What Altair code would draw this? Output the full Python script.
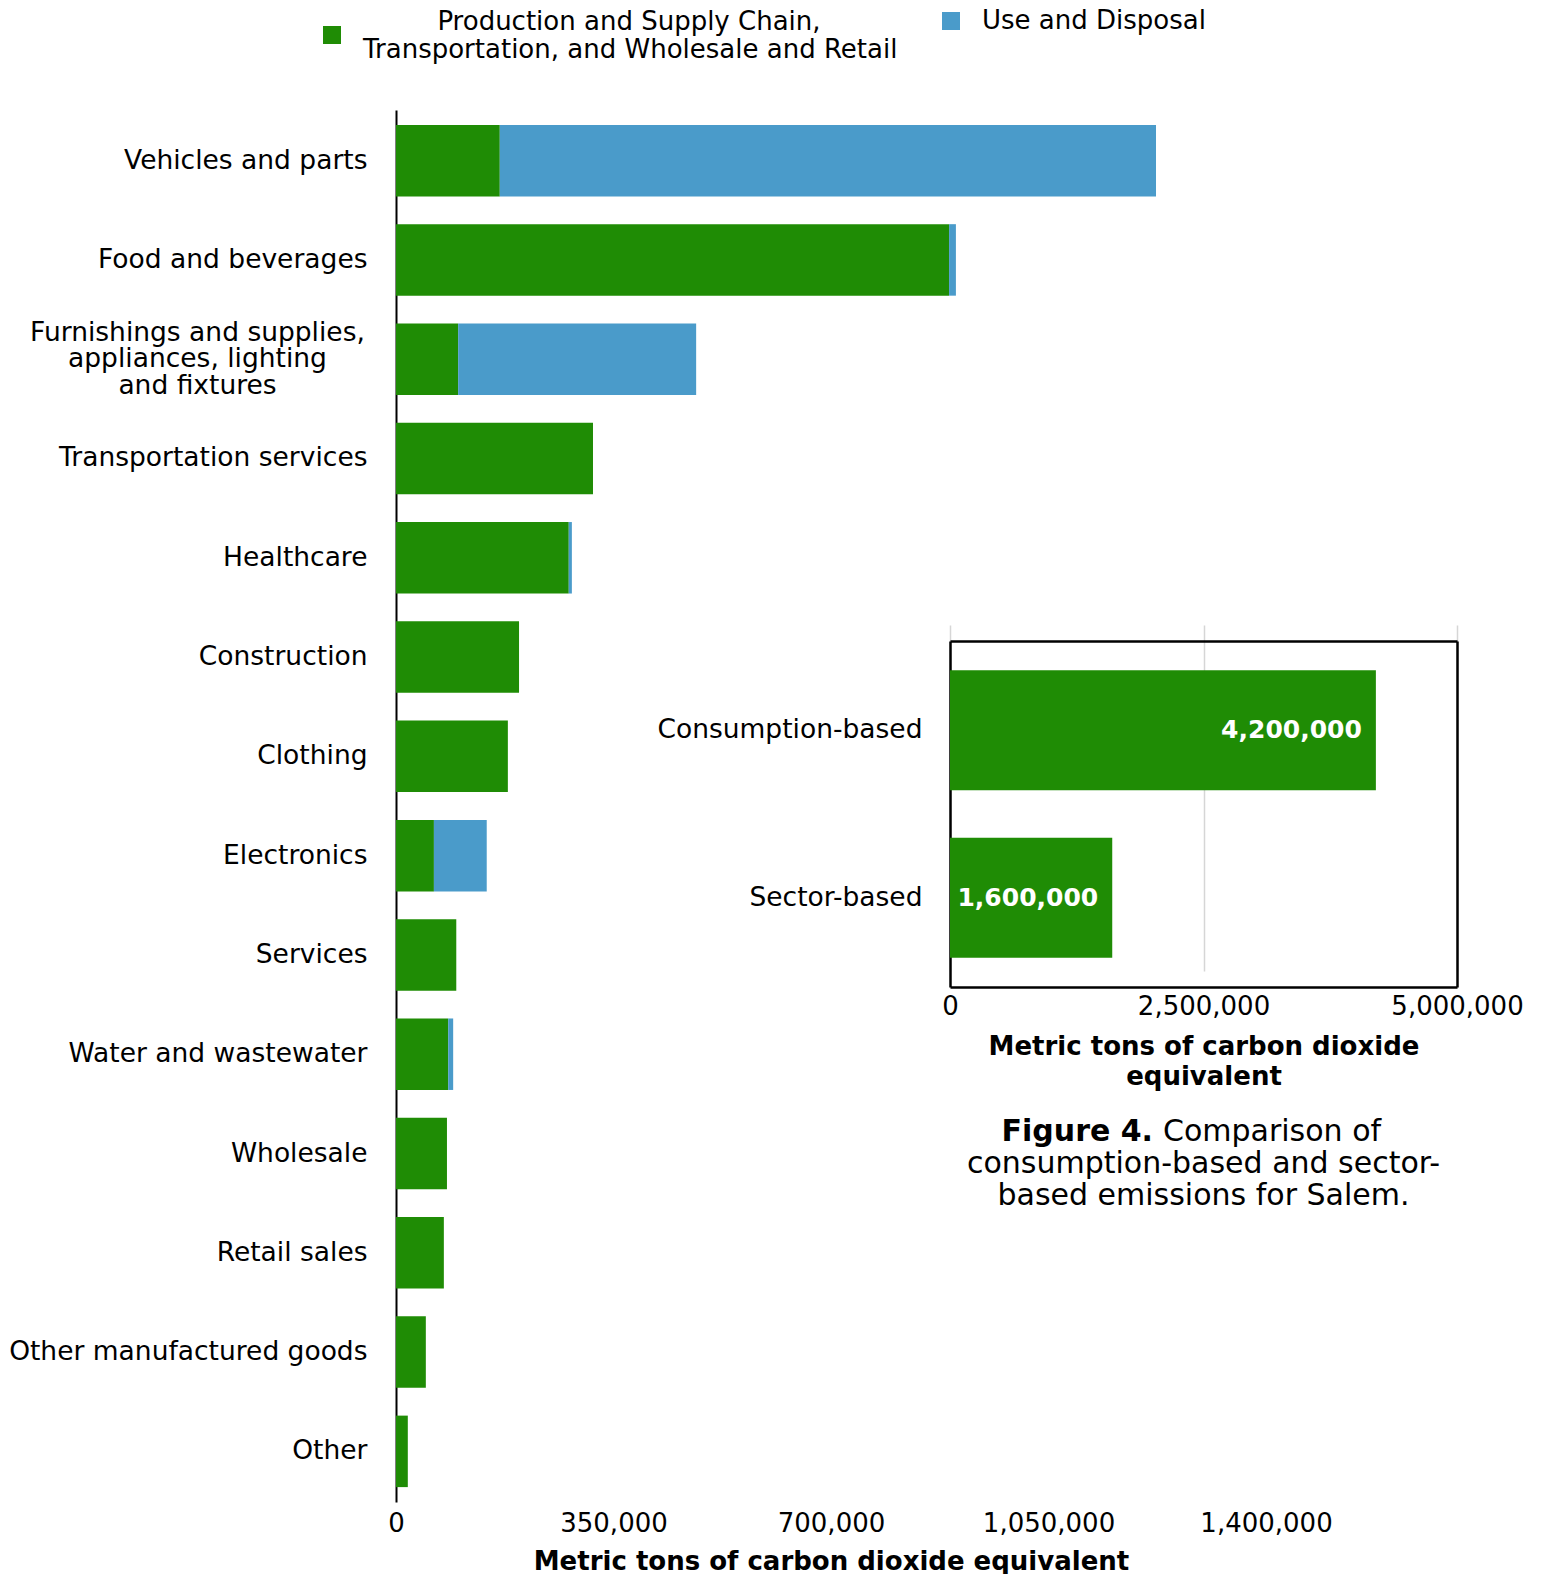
import altair as alt
import pandas as pd

FONT = "DejaVu Sans"
GREEN = "#1f8c05"
BLUE = "#4a9bca"

# ---------------- data ----------------
categories = [
    "Vehicles and parts",
    "Food and beverages",
    "Furnishings and supplies,\nappliances, lighting\nand fixtures",
    "Transportation services",
    "Healthcare",
    "Construction",
    "Clothing",
    "Electronics",
    "Services",
    "Water and wastewater",
    "Wholesale",
    "Retail sales",
    "Other manufactured goods",
    "Other",
]
series = [
    "Production and Supply Chain,\nTransportation, and Wholesale and Retail",
    "Use and Disposal",
]
production = [167000, 890000, 100000, 317000, 278000, 198000, 180000,
              61000, 97000, 84000, 82000, 77000, 48000, 19000]
use_disposal = [1056000, 11000, 383000, 0, 5000, 0, 0,
                85000, 0, 8000, 0, 0, 0, 0]
x_ticks = [0, 350000, 700000, 1050000, 1400000]

inset_categories = ["Consumption-based", "Sector-based"]
inset_values = [4200000, 1600000]
inset_ticks = [0, 2500000, 5000000]

axis_title = "Metric tons of carbon dioxide equivalent"
inset_axis_title = ["Metric tons of carbon dioxide", "equivalent"]
caption_bold = "Figure 4."
caption_line1 = "Comparison of"
caption_rest = "consumption-based and sector-\nbased emissions for Salem."

# ---------------- tables ----------------
dfw = pd.DataFrame({
    "category": categories,
    "production": production,
    "use": use_disposal,
})
dfw["total"] = dfw["production"] + dfw["use"]
dfw["series_a"] = series[0]
dfw["series_b"] = series[1]

inset_df = pd.DataFrame({
    "measure": inset_categories,
    "value": inset_values,
    "label": [f"{v:,}" for v in inset_values],
})

# ---------------- layout constants ----------------
W, H = 870, 1392
IX0, IX1 = 554, 1061     # inset horizontal extent (pixels inside plot)
IY0, IY1 = 531, 877      # inset vertical extent

# zero-width space keeps the centring spaces from being trimmed
PAD = "\u200b" + "\u00a0" * 9
legend_a_expr = f"['{PAD}' + split(datum.label, '\\n')[0], split(datum.label, '\\n')[1]]"
multi = "indexof(datum.label, '\\n') >= 0"

# ---------------- main chart ----------------
y_main = alt.Y(
    "category:N",
    sort=categories,
    scale=alt.Scale(paddingInner=0.28, paddingOuter=0.15),
    axis=alt.Axis(
        title=None,
        ticks=False,
        domain=True,
        domainColor="black",
        domainWidth=2,
        labelFontSize=26.5,
        labelColor="black",
        labelLimit=0,
        labelLineHeight=26.5,
        labelExpr="split(datum.label, '\\n')",
        labelAlign={"condition": {"test": multi, "value": "center"}, "value": "right"},
        labelPadding={"condition": {"test": multi, "value": 199}, "value": 29},
        labelOffset={"condition": {"test": multi, "value": -26.5}, "value": 0},
        grid=False,
    ),
)
x_scale_main = alt.Scale(domain=[0, 1400000], nice=False)
x_axis_main = alt.Axis(
    values=x_ticks,
    format=",.0f",
    title=axis_title,
    titleFontSize=26,
    titleFontWeight="bold",
    titleColor="black",
    titlePadding=12,
    labelFontSize=26,
    labelColor="black",
    labelPadding=8,
    labelFlush=False,
    ticks=False,
    domain=False,
    grid=False,
)

bars_a = alt.Chart(dfw).mark_bar().encode(
    y=y_main,
    x=alt.X("production:Q", stack=None, scale=x_scale_main, axis=x_axis_main),
    color=alt.Color(
        "series_a:N",
        scale=alt.Scale(domain=[series[0]], range=[GREEN]),
        legend=alt.Legend(
            title=None,
            orient="none",
            legendX=-77,
            legendY=-88,
            symbolType="square",
            symbolSize=324,
            symbolStrokeWidth=0,
            labelFontSize=26,
            labelColor="black",
            labelOffset=18,
            labelLimit=0,
            labelBaseline="bottom",
            labelExpr=legend_a_expr,
            padding=0,
        ),
    ),
)

bars_b = alt.Chart(dfw).mark_bar().encode(
    y=y_main,
    x=alt.X("production:Q", stack=None, scale=x_scale_main, axis=x_axis_main),
    x2="total:Q",
    color=alt.Color(
        "series_b:N",
        scale=alt.Scale(domain=[series[1]], range=[BLUE]),
        legend=alt.Legend(
            title=None,
            orient="none",
            legendX=542,
            legendY=-102,
            symbolType="square",
            symbolSize=324,
            symbolStrokeWidth=0,
            labelFontSize=26,
            labelColor="black",
            labelOffset=18,
            labelLimit=0,
            padding=0,
        ),
    ),
)

main = alt.layer(bars_a, bars_b).resolve_scale(color="independent")

# ---------------- inset ----------------
inset_y_scale = alt.Scale(domain=inset_categories, range=[IY0, IY1],
                          paddingInner=0.284, paddingOuter=0.175)
inset_x_scale = alt.Scale(domain=[0, 5000000], range=[IX0, IX1], nice=False)

inset_bars = alt.Chart(inset_df).mark_bar(color=GREEN).encode(
    y=alt.Y(
        "measure:N",
        sort=inset_categories,
        scale=inset_y_scale,
        axis=alt.Axis(
            orient="left",
            offset=-IX0,
            title=None,
            ticks=False,
            domain=True,
            domainColor="black",
            domainWidth=2.5,
            labelFontSize=26.5,
            labelColor="black",
            labelPadding=28,
            labelLimit=0,
            grid=False,
        ),
    ),
    x=alt.X(
        "value:Q",
        scale=inset_x_scale,
        axis=alt.Axis(
            orient="bottom",
            offset=-(H - IY1),
            values=inset_ticks,
            format=",.0f",
            title=inset_axis_title,
            titleFontSize=26,
            titleFontWeight="bold",
            titleColor="black",
            titlePadding=14,
            titleLineHeight=30,
            labelFontSize=26,
            labelColor="black",
            labelPadding=6,
            labelFlush=False,
            ticks=False,
            domain=True,
            domainColor="black",
            domainWidth=2.5,
            grid=True,
            gridColor="#d6d6d6",
            gridWidth=1.5,
        ),
    ),
)

inset_text = alt.Chart(inset_df).mark_text(
    align="right", baseline="middle", dx=-14, color="white",
    fontWeight="bold", fontSize=25, font=FONT,
).encode(
    y=alt.Y(
        "measure:N",
        sort=inset_categories,
        scale=inset_y_scale,
        axis=alt.Axis(orient="right", offset=IX1 - W, title=None, labels=False,
                      ticks=False, grid=False, domain=True, domainColor="black",
                      domainWidth=2.5),
    ),
    x=alt.X(
        "value:Q",
        scale=inset_x_scale,
        axis=alt.Axis(orient="top", offset=-IY0, title=None, labels=False,
                      ticks=False, grid=False, domain=True, domainColor="black",
                      domainWidth=2.5),
    ),
    text="label:N",
)

inset = alt.layer(inset_bars, inset_text).resolve_axis(x="independent", y="independent")

# ---------------- caption ----------------
cap_a = alt.Chart(pd.DataFrame({"t": [caption_bold]})).mark_text(
    align="right", baseline="middle", fontSize=30, fontWeight="bold", font=FONT, color="black",
).encode(text="t:N", x=alt.value(757), y=alt.value(1022))
cap_b = alt.Chart(pd.DataFrame({"t": [caption_line1]})).mark_text(
    align="left", baseline="middle", fontSize=30, font=FONT, color="black",
).encode(text="t:N", x=alt.value(767), y=alt.value(1022))
cap_c = alt.Chart(pd.DataFrame({"t": [caption_rest]})).mark_text(
    align="center", baseline="middle", fontSize=30, font=FONT, color="black",
    lineBreak="\n", lineHeight=31.5,
).encode(text="t:N", x=alt.value((IX0 + IX1) / 2), y=alt.value(1054))

chart = (
    alt.layer(main, inset, cap_a, cap_b, cap_c)
    .resolve_scale(x="independent", y="independent")
    .properties(width=W, height=H, padding=0)
    .configure(font=FONT)
    .configure_view(strokeWidth=0)
)

chart.save("out.html", embed_options={"renderer": "svg", "actions": False})
